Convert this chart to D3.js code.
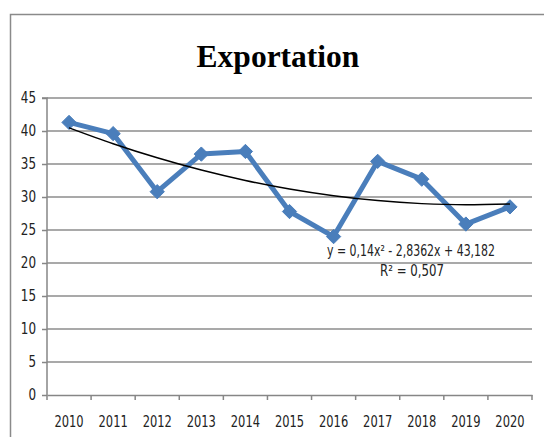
<!DOCTYPE html>
<html>
<head>
<meta charset="utf-8">
<script src="https://cdnjs.cloudflare.com/ajax/libs/d3/7.8.5/d3.min.js"></script>
<style>
  body { margin: 0; background: #fff; }
  svg text { font-family: "DejaVu Sans", sans-serif; }
</style>
</head>
<body>
<div id="chart"></div>
<script>
// data
const years = ["2010", "2011", "2012", "2013", "2014", "2015", "2016", "2017", "2018", "2019", "2020"];
const exportValues = [41.3, 39.6, 30.8, 36.5, 36.9, 27.8, 24.0, 35.4, 32.7, 25.9, 28.5];
const yTicks = [0, 5, 10, 15, 20, 25, 30, 35, 40, 45];
// polynomial trendline y = a x^2 + b x + c (x = 1..11)
const trendCoef = [0.14, -2.8362, 43.182];
const trendLabel = "y = 0,14x² - 2,8362x + 43,182";
const r2Label = "R² = 0,507";

const width = 544, height = 437;
const margin = { left: 47, right: 12, top: 98, bottom: 42 };

const svg = d3.select("#chart").append("svg")
  .attr("width", width)
  .attr("height", height);

// chart frame
svg.append("rect")
  .attr("x", 10.5).attr("y", 14.5)
  .attr("width", 560).attr("height", 460)
  .attr("fill", "#fff")
  .attr("stroke", "#8a8a8a")
  .attr("stroke-width", 1.5);

const x = d3.scaleBand()
  .domain(years)
  .range([margin.left, width - margin.right]);

const y = d3.scaleLinear()
  .domain([0, 45])
  .range([height - margin.bottom, margin.top]);

// narrow the fallback font to about Calibri's width
function narrow(sel, perChar) {
  sel.each(function () {
    const t = d3.select(this);
    t.attr("textLength", t.text().length * perChar).attr("lengthAdjust", "spacingAndGlyphs");
  });
}

// gridlines
svg.append("g")
  .selectAll("line")
  .data(yTicks.filter(d => d > 0))
  .join("line")
  .attr("x1", margin.left).attr("x2", width - margin.right)
  .attr("y1", d => y(d)).attr("y2", d => y(d))
  .attr("stroke", "#8c8c8c")
  .attr("stroke-width", 1.5);

// y axis
const yAxis = svg.append("g")
  .attr("transform", `translate(${margin.left},0)`)
  .call(d3.axisLeft(y).tickValues(yTicks).tickSize(5).tickPadding(6));
yAxis.selectAll("text").attr("font-size", 15).attr("fill", "#222").call(narrow, 7.6);

// x axis, ticks between categories
const xAxis = svg.append("g")
  .attr("transform", `translate(0,${y(0)})`)
  .call(d3.axisBottom(x).tickSize(0).tickPadding(21));
xAxis.selectAll("text").attr("font-size", 15).attr("fill", "#222").call(narrow, 7.3);
xAxis.selectAll(".tick line").remove();
xAxis.selectAll("line.sep")
  .data(years.concat(["end"]))
  .join("line")
  .attr("class", "sep")
  .attr("x1", (d, i) => margin.left + i * x.bandwidth())
  .attr("x2", (d, i) => margin.left + i * x.bandwidth())
  .attr("y1", 0).attr("y2", 5);

svg.selectAll(".domain, .tick line, line.sep")
  .attr("stroke", "#868686")
  .attr("stroke-width", 1.5);
yAxis.select(".domain").attr("d", `M-5,${y(45)}H0V${y(0)}`);

const cx = d => x(d) + x.bandwidth() / 2;

// data line
svg.append("path")
  .datum(exportValues)
  .attr("fill", "none")
  .attr("stroke", "#4a7ebb")
  .attr("stroke-width", 5)
  .attr("stroke-linejoin", "round")
  .attr("d", d3.line().x((d, i) => cx(years[i])).y(d => y(d)));

// diamond markers
svg.append("g")
  .selectAll("path")
  .data(exportValues)
  .join("path")
  .attr("transform", (d, i) => `translate(${cx(years[i])},${y(d)})`)
  .attr("d", d3.symbol().type(d3.symbolDiamond2).size(130))
  .attr("fill", "#4a7ebb")
  .attr("stroke", "#4a7ebb")
  .attr("stroke-width", 1);

// trendline
const trend = years.map((yr, i) => {
  const t = i + 1;
  return { yr, v: trendCoef[0] * t * t + trendCoef[1] * t + trendCoef[2] };
});
svg.append("path")
  .datum(trend)
  .attr("fill", "none")
  .attr("stroke", "#000")
  .attr("stroke-width", 1.5)
  .attr("d", d3.line().curve(d3.curveMonotoneX).x(d => cx(d.yr)).y(d => y(d.v)));

// trendline labels
svg.append("text")
  .attr("x", 411).attr("y", 256)
  .attr("text-anchor", "middle")
  .attr("font-size", 15)
  .attr("fill", "#222")
  .attr("textLength", 168)
  .attr("lengthAdjust", "spacingAndGlyphs")
  .text(trendLabel);
svg.append("text")
  .attr("x", 412).attr("y", 276)
  .attr("text-anchor", "middle")
  .attr("font-size", 15)
  .attr("fill", "#222")
  .attr("textLength", 64)
  .attr("lengthAdjust", "spacingAndGlyphs")
  .text(r2Label);

// title
svg.append("text")
  .attr("x", 278).attr("y", 67)
  .attr("text-anchor", "middle")
  .style("font-family", "'Liberation Serif', 'Times New Roman', serif")
  .attr("font-weight", "bold")
  .attr("font-size", 31.5)
  .attr("fill", "#000")
  .text("Exportation");
</script>
</body>
</html>
